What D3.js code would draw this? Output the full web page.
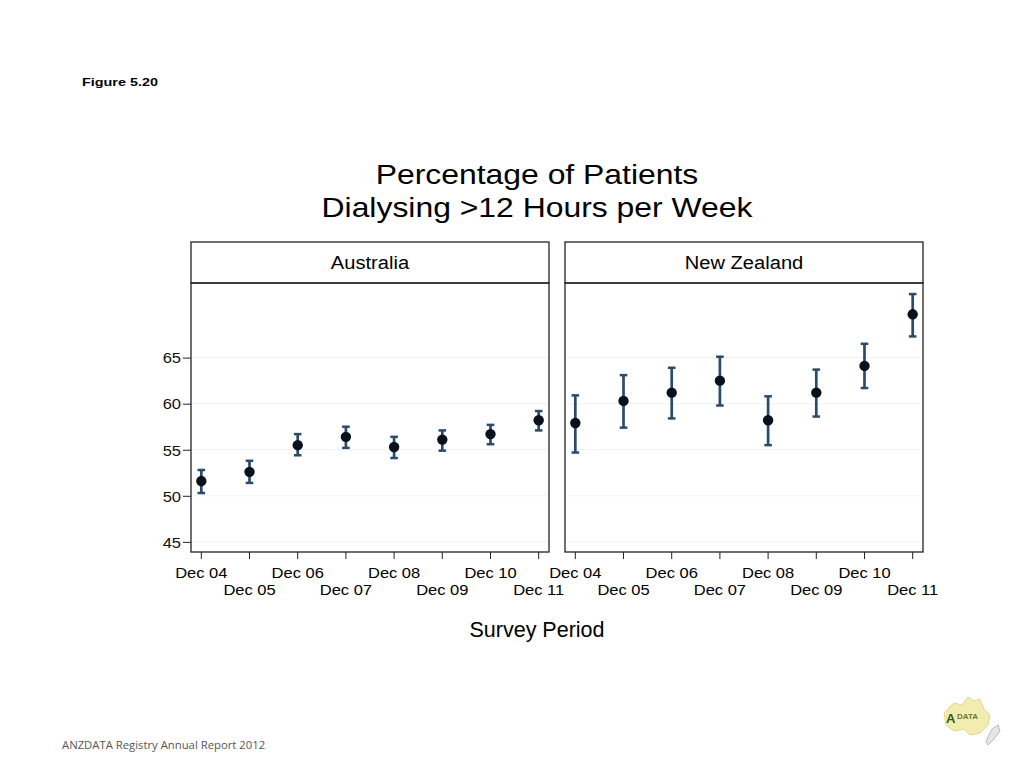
<!DOCTYPE html>
<html>
<head>
<meta charset="utf-8">
<script src="https://cdn.jsdelivr.net/npm/d3@7"></script>
<style>
  body { margin: 0; background: #fff; }
  text { font-family: "Liberation Sans", Arial, sans-serif; }
</style>
</head>
<body>
<div id="chart"></div>
<script>
// survey periods and panels
var periods = ["Dec 04", "Dec 05", "Dec 06", "Dec 07", "Dec 08", "Dec 09", "Dec 10", "Dec 11"]
var panels = ["Australia", "New Zealand"]

// values (percent)
var aus_mean = [51.6, 52.6, 55.5, 56.4, 55.3, 56.1, 56.7, 58.2]
var aus_low  = [50.3, 51.4, 54.4, 55.2, 54.1, 54.9, 55.6, 57.1]
var aus_high = [52.8, 53.8, 56.7, 57.5, 56.4, 57.1, 57.7, 59.2]

var nz_mean = [57.9, 60.3, 61.2, 62.5, 58.2, 61.2, 64.1, 69.7]
var nz_low  = [54.7, 57.4, 58.4, 59.8, 55.5, 58.6, 61.7, 67.3]
var nz_high = [60.9, 63.1, 63.9, 65.1, 60.8, 63.7, 66.5, 71.9]

var y_ticks = [45, 50, 55, 60, 65]

var w = 1024, h = 768
var panel_w = 358
var panel_left = [191, 565]
var header_top = 242
var plot_top = 283
var plot_bottom = 552
var ci_color = "#2b4b6a"

var svg = d3.select("#chart").append("svg")
  .attr("width", w)
  .attr("height", h)

// the original export is stretched sideways a bit, so text gets a small x scale
var put_text = function(parent, x, y, str, size, sx, anchor) {
  return parent.append("text")
    .attr("transform", "translate(" + x + "," + y + ") scale(" + sx + ",1)")
    .attr("text-anchor", anchor || "start")
    .attr("font-size", size)
    .text(str)
}

put_text(svg, 82, 86, "Figure 5.20", 11.7, 1.23)
  .attr("font-weight", "bold")

put_text(svg, 537, 184, "Percentage of Patients", 27.5, 1.16, "middle")
put_text(svg, 537, 217, "Dialysing >12 Hours per Week", 27.5, 1.16, "middle")

var y = d3.scaleLinear().domain([43.9, 73.1]).range([plot_bottom, plot_top])

var data = [
  periods.map(function(p, i){ return {p: p, m: aus_mean[i], lo: aus_low[i], hi: aus_high[i]} }),
  periods.map(function(p, i){ return {p: p, m: nz_mean[i], lo: nz_low[i], hi: nz_high[i]} })
]

for (let k = 0; k < panels.length; k++) {
  let x0 = panel_left[k]
  let x = d3.scaleLinear().domain([-0.214, 7.214]).range([x0, x0 + panel_w])
  let g = svg.append("g")

  // faint grid
  g.selectAll(".grid").data(y_ticks).enter().append("line")
    .attr("x1", x0).attr("x2", x0 + panel_w)
    .attr("y1", function(d){ return y(d) }).attr("y2", function(d){ return y(d) })
    .attr("stroke", "#f1f1f1").attr("stroke-width", 1)

  // header strip
  g.append("rect")
    .attr("x", x0).attr("y", header_top)
    .attr("width", panel_w).attr("height", plot_top - header_top)
    .attr("fill", "#fff").attr("stroke", "#222").attr("stroke-width", 1.3)
  put_text(g, x0 + panel_w / 2, 269, panels[k], 19, 1.06, "middle")

  // plot frame
  g.append("rect")
    .attr("x", x0).attr("y", plot_top)
    .attr("width", panel_w).attr("height", plot_bottom - plot_top)
    .attr("fill", "none").attr("stroke", "#222").attr("stroke-width", 1.3)

  // error bars
  let bars = g.selectAll(".ci").data(data[k]).enter().append("g")
  bars.append("line")
    .attr("x1", function(d, i){ return x(i) }).attr("x2", function(d, i){ return x(i) })
    .attr("y1", function(d){ return y(d.lo) }).attr("y2", function(d){ return y(d.hi) })
    .attr("stroke", ci_color).attr("stroke-width", 2.7)
  bars.append("line")
    .attr("x1", function(d, i){ return x(i) - 3.8 }).attr("x2", function(d, i){ return x(i) + 3.8 })
    .attr("y1", function(d){ return y(d.lo) }).attr("y2", function(d){ return y(d.lo) })
    .attr("stroke", ci_color).attr("stroke-width", 2.5)
  bars.append("line")
    .attr("x1", function(d, i){ return x(i) - 3.8 }).attr("x2", function(d, i){ return x(i) + 3.8 })
    .attr("y1", function(d){ return y(d.hi) }).attr("y2", function(d){ return y(d.hi) })
    .attr("stroke", ci_color).attr("stroke-width", 2.5)
  bars.append("circle")
    .attr("cx", function(d, i){ return x(i) }).attr("cy", function(d){ return y(d.m) })
    .attr("r", 5.2).attr("fill", "#08111c")

  // x axis ticks and staggered labels
  g.selectAll(".xt").data(periods).enter().append("line")
    .attr("x1", function(d, i){ return x(i) }).attr("x2", function(d, i){ return x(i) })
    .attr("y1", plot_bottom).attr("y2", plot_bottom + 7)
    .attr("stroke", "#222").attr("stroke-width", 1)
  periods.forEach(function(p, i){
    put_text(g, x(i), i % 2 == 0 ? 577.5 : 594.5, p, 15, 1.1, "middle")
  })
}

// y axis on the left panel
var y_axis = d3.axisLeft(y).tickValues(y_ticks).tickSize(8).tickPadding(2)
var ya = svg.append("g").attr("transform", "translate(" + panel_left[0] + ",0)").call(y_axis)
ya.select(".domain").remove()
ya.selectAll("line").attr("stroke", "#222")
ya.selectAll("text").remove()
ya.selectAll(".tick").each(function(d){
  put_text(d3.select(this), -10, 5.3, d, 15, 1.1, "end").attr("fill", "#111")
})

put_text(svg, 537, 637, "Survey Period", 21.5, 1.0, "middle")

svg.append("text")
  .attr("x", 62).attr("y", 749)
  .attr("font-size", 11.3).attr("fill", "#555")
  .style("font-family", "Open Sans, sans-serif")
  .text("ANZDATA Registry Annual Report 2012")

// little logo in the corner
var logo = svg.append("g").attr("transform", "translate(940,695)")
logo.append("path")
  .attr("d", "M4,18 L14,8 L22,10 L28,2 L34,6 L40,4 L44,14 L50,20 L48,30 L40,38 L30,40 L24,34 L14,36 L6,30 Z")
  .attr("fill", "#f3ecb0").attr("stroke", "#d8cf80").attr("stroke-width", 0.8)
logo.append("path")
  .attr("d", "M52,34 L58,30 L60,36 L54,44 L48,50 L46,46 Z")
  .attr("fill", "#e6e6e6").attr("stroke", "#aaa").attr("stroke-width", 0.8)
logo.append("text")
  .attr("x", 6).attr("y", 28).attr("font-size", 13).attr("font-weight", "bold")
  .attr("fill", "#2f5a1e").text("A")
logo.append("text")
  .attr("x", 17).attr("y", 24).attr("font-size", 8).attr("font-weight", "bold")
  .attr("fill", "#6b7a2a").text("DATA")
</script>
</body>
</html>
